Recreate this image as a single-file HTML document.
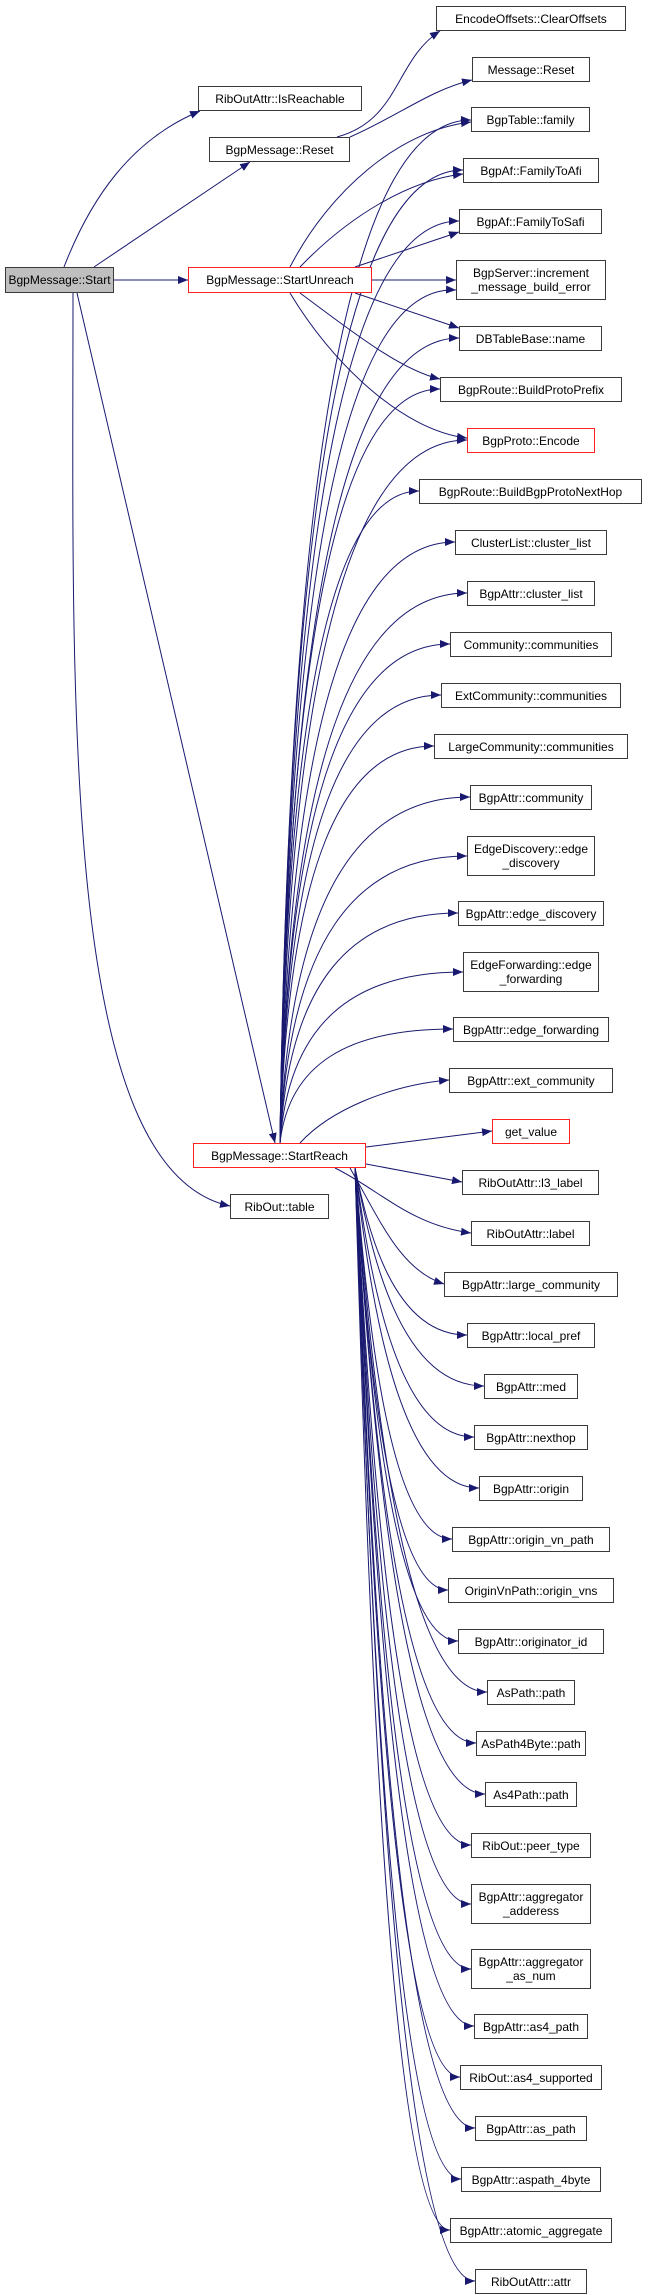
<!DOCTYPE html>
<html><head><meta charset="utf-8"><style>
body{margin:0;width:648px;height:2295px;background:#fff;position:relative;overflow:hidden}
.n{position:absolute;box-sizing:border-box;border:1.3px solid #3a3a3a;background:#fff;font:12px/14px "Liberation Sans",sans-serif;color:#000;text-align:center;display:flex;align-items:center;justify-content:center;white-space:pre}
.r{border-color:#ff2020}
.g{background:#bfbfbf}
svg{position:absolute;left:0;top:0}
</style></head><body>
<svg width="648" height="2295" viewBox="0 0 648 2295">
<defs><marker id="a" markerWidth="10" markerHeight="8" refX="10" refY="4" orient="auto" markerUnits="userSpaceOnUse"><path d="M0,0 L10,4 L0,8z" fill="#191970"/></marker></defs>
<g fill="none" stroke="#191970" stroke-width="1" marker-end="url(#a)">
<path d="M64,267 C90,200 130,140 200,111"/>
<path d="M94,267 L250,162"/>
<path d="M113,280 L188,280"/>
<path d="M77,293 L275,1143"/>
<path d="M73,293 C73,700 60,1170 230,1206"/>
<path d="M337,137 C400,120 395,60 440,31"/>
<path d="M350,137 C400,115 430,90 472,80"/>
<path d="M290,267 C330,190 400,130 471,122"/>
<path d="M300,267 C350,215 410,180 463,174"/>
<path d="M355,267 L459,232"/>
<path d="M372,280 L456,280"/>
<path d="M355,293 L459,328"/>
<path d="M300,293 C350,330 400,370 440,379"/>
<path d="M290,293 C330,360 400,430 467,438"/>
<path d="M280,1143 C290,427 356,120 471,120"/>
<path d="M280,1143 C289,462 353,170 463,170"/>
<path d="M280,1143 C289,498 352,221 459,221"/>
<path d="M280,1143 C289,539 350,285 456,290"/>
<path d="M280,1143 C289,580 352,338 459,338"/>
<path d="M280,1143 C288,615 344,389 440,389"/>
<path d="M280,1143 C289,651 355,440 467,440"/>
<path d="M280,1143 C287,687 336,491 419,491"/>
<path d="M280,1143 C289,722 350,542 455,542"/>
<path d="M280,1143 C289,758 355,593 467,593"/>
<path d="M280,1143 C288,794 348,644 450,644"/>
<path d="M280,1143 C288,829 344,695 441,695"/>
<path d="M280,1143 C288,865 342,746 434,746"/>
<path d="M280,1143 C290,901 356,797 470,797"/>
<path d="M280,1143 C289,942 355,856 467,856"/>
<path d="M280,1143 C289,982 351,913 458,913"/>
<path d="M280,1143 C289,1023 353,972 463,972"/>
<path d="M280,1143 C289,1063 349,1029 453,1029"/>
<path d="M300,1143 C330,1110 390,1085 449,1080"/>
<path d="M366,1147 L492,1131"/>
<path d="M366,1164 L462,1182"/>
<path d="M335,1168 C380,1190 410,1225 471,1233"/>
<path d="M350,1168 C380,1220 400,1270 444,1284"/>
<path d="M355,1168 C366,1218 389,1335 467,1335"/>
<path d="M355,1168 C368,1233 394,1386 484,1386"/>
<path d="M355,1168 C367,1249 391,1437 474,1437"/>
<path d="M355,1168 C367,1264 392,1488 479,1488"/>
<path d="M355,1168 C365,1279 384,1539 452,1539"/>
<path d="M355,1168 C364,1295 383,1590 448,1590"/>
<path d="M355,1168 C365,1310 386,1641 458,1641"/>
<path d="M355,1168 C368,1325 395,1692 487,1692"/>
<path d="M355,1168 C367,1341 391,1743 476,1743"/>
<path d="M355,1168 C368,1356 394,1794 485,1794"/>
<path d="M355,1168 C367,1371 389,1845 471,1845"/>
<path d="M355,1168 C367,1389 389,1904 471,1904"/>
<path d="M355,1168 C367,1408 389,1969 471,1969"/>
<path d="M355,1168 C367,1425 391,2026 474,2026"/>
<path d="M355,1168 C366,1441 387,2077 460,2077"/>
<path d="M355,1168 C367,1456 391,2128 475,2128"/>
<path d="M355,1168 C366,1471 387,2179 461,2179"/>
<path d="M355,1168 C365,1487 384,2230 450,2230"/>
<path d="M355,1168 C367,1502 391,2281 475,2281"/>
</g></svg>
<div class="n g" style="left:5px;top:267px;width:109px;height:26px">BgpMessage::Start</div>
<div class="n r" style="left:188px;top:267px;width:184px;height:26px">BgpMessage::StartUnreach</div>
<div class="n" style="left:198px;top:86px;width:164px;height:25px">RibOutAttr::IsReachable</div>
<div class="n" style="left:209px;top:137px;width:141px;height:25px">BgpMessage::Reset</div>
<div class="n r" style="left:193px;top:1143px;width:173px;height:25px">BgpMessage::StartReach</div>
<div class="n" style="left:230px;top:1194px;width:99px;height:25px">RibOut::table</div>
<div class="n" style="left:436px;top:6px;width:190px;height:25px">EncodeOffsets::ClearOffsets</div>
<div class="n" style="left:472px;top:57px;width:118px;height:25px">Message::Reset</div>
<div class="n" style="left:471px;top:107px;width:119px;height:25px">BgpTable::family</div>
<div class="n" style="left:463px;top:158px;width:136px;height:25px">BgpAf::FamilyToAfi</div>
<div class="n" style="left:459px;top:209px;width:143px;height:25px">BgpAf::FamilyToSafi</div>
<div class="n" style="left:456px;top:260px;width:150px;height:40px">BgpServer::increment
_message_build_error</div>
<div class="n" style="left:459px;top:326px;width:143px;height:25px">DBTableBase::name</div>
<div class="n" style="left:440px;top:377px;width:182px;height:25px">BgpRoute::BuildProtoPrefix</div>
<div class="n r" style="left:467px;top:428px;width:128px;height:25px">BgpProto::Encode</div>
<div class="n" style="left:419px;top:479px;width:223px;height:25px">BgpRoute::BuildBgpProtoNextHop</div>
<div class="n" style="left:455px;top:530px;width:152px;height:25px">ClusterList::cluster_list</div>
<div class="n" style="left:467px;top:581px;width:128px;height:25px">BgpAttr::cluster_list</div>
<div class="n" style="left:450px;top:632px;width:162px;height:25px">Community::communities</div>
<div class="n" style="left:441px;top:683px;width:180px;height:25px">ExtCommunity::communities</div>
<div class="n" style="left:434px;top:734px;width:194px;height:25px">LargeCommunity::communities</div>
<div class="n" style="left:470px;top:785px;width:122px;height:25px">BgpAttr::community</div>
<div class="n" style="left:467px;top:836px;width:128px;height:40px">EdgeDiscovery::edge
_discovery</div>
<div class="n" style="left:458px;top:901px;width:146px;height:25px">BgpAttr::edge_discovery</div>
<div class="n" style="left:463px;top:952px;width:136px;height:40px">EdgeForwarding::edge
_forwarding</div>
<div class="n" style="left:453px;top:1017px;width:156px;height:25px">BgpAttr::edge_forwarding</div>
<div class="n" style="left:449px;top:1068px;width:164px;height:25px">BgpAttr::ext_community</div>
<div class="n r" style="left:492px;top:1119px;width:78px;height:25px">get_value</div>
<div class="n" style="left:462px;top:1170px;width:137px;height:25px">RibOutAttr::l3_label</div>
<div class="n" style="left:471px;top:1221px;width:119px;height:25px">RibOutAttr::label</div>
<div class="n" style="left:444px;top:1272px;width:174px;height:25px">BgpAttr::large_community</div>
<div class="n" style="left:467px;top:1323px;width:128px;height:25px">BgpAttr::local_pref</div>
<div class="n" style="left:484px;top:1374px;width:94px;height:25px">BgpAttr::med</div>
<div class="n" style="left:474px;top:1425px;width:114px;height:25px">BgpAttr::nexthop</div>
<div class="n" style="left:479px;top:1476px;width:104px;height:25px">BgpAttr::origin</div>
<div class="n" style="left:452px;top:1527px;width:158px;height:25px">BgpAttr::origin_vn_path</div>
<div class="n" style="left:448px;top:1578px;width:166px;height:25px">OriginVnPath::origin_vns</div>
<div class="n" style="left:458px;top:1629px;width:146px;height:25px">BgpAttr::originator_id</div>
<div class="n" style="left:487px;top:1680px;width:88px;height:25px">AsPath::path</div>
<div class="n" style="left:476px;top:1731px;width:110px;height:25px">AsPath4Byte::path</div>
<div class="n" style="left:485px;top:1782px;width:92px;height:25px">As4Path::path</div>
<div class="n" style="left:471px;top:1833px;width:120px;height:25px">RibOut::peer_type</div>
<div class="n" style="left:471px;top:1884px;width:120px;height:40px">BgpAttr::aggregator
_adderess</div>
<div class="n" style="left:471px;top:1949px;width:120px;height:40px">BgpAttr::aggregator
_as_num</div>
<div class="n" style="left:474px;top:2014px;width:114px;height:25px">BgpAttr::as4_path</div>
<div class="n" style="left:460px;top:2065px;width:142px;height:25px">RibOut::as4_supported</div>
<div class="n" style="left:475px;top:2116px;width:112px;height:25px">BgpAttr::as_path</div>
<div class="n" style="left:461px;top:2167px;width:140px;height:25px">BgpAttr::aspath_4byte</div>
<div class="n" style="left:450px;top:2218px;width:162px;height:25px">BgpAttr::atomic_aggregate</div>
<div class="n" style="left:475px;top:2269px;width:112px;height:25px">RibOutAttr::attr</div>
</body></html>
